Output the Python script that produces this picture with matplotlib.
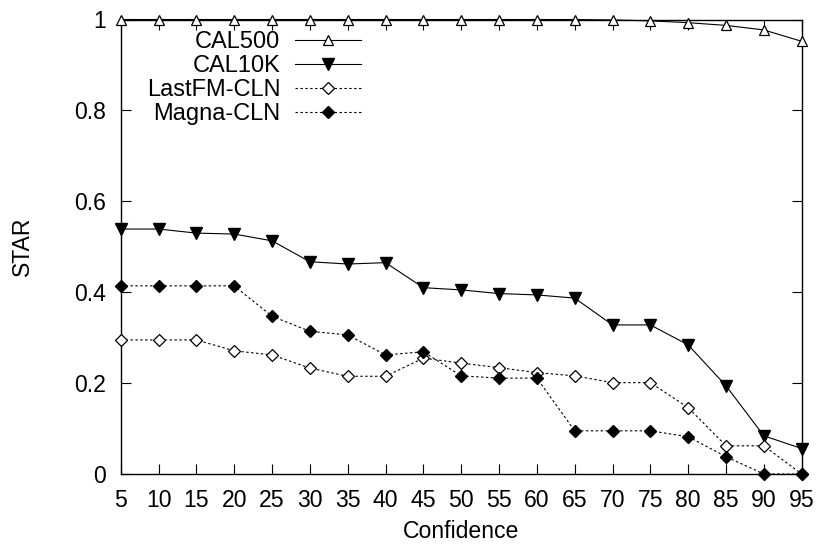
import matplotlib
matplotlib.use("Agg")
import matplotlib.pyplot as plt

plt.rcParams['font.family'] = ['Liberation Sans', 'DejaVu Sans']

confidence = [5, 10, 15, 20, 25, 30, 35, 40, 45, 50, 55, 60, 65, 70, 75, 80, 85, 90, 95]
cal500 = [1.0, 1.0, 1.0, 1.0, 1.0, 1.0, 1.0, 1.0, 1.0, 1.0, 1.0, 1.0, 1.0, 0.999, 0.997, 0.993, 0.987, 0.977, 0.952]
cal10k = [0.539, 0.539, 0.530, 0.528, 0.513, 0.467, 0.462, 0.465, 0.410, 0.405, 0.397, 0.394, 0.387, 0.328, 0.328, 0.284, 0.194, 0.084, 0.056]
lastfm = [0.295, 0.295, 0.295, 0.271, 0.262, 0.233, 0.215, 0.215, 0.255, 0.244, 0.234, 0.223, 0.216, 0.201, 0.201, 0.146, 0.062, 0.062, 0.0]
magna = [0.414, 0.414, 0.414, 0.414, 0.347, 0.314, 0.306, 0.262, 0.269, 0.216, 0.211, 0.211, 0.095, 0.095, 0.095, 0.082, 0.038, 0.0, 0.0]

yticks = [0, 0.2, 0.4, 0.6, 0.8, 1]
ytick_labels = ["0", "0.2", "0.4", "0.6", "0.8", "1"]

FS = 16.6
LFS = 17

fig = plt.figure(figsize=(8.17, 5.44), dpi=100)
ax = fig.add_axes([120.7 / 817, (544 - 474) / 544, (801.7 - 120.7) / 817, (474 - 19.5) / 544])

dash = (0, (2.2, 2.2))
ax.plot(confidence, cal500, color='black', lw=0.8, marker='^', ms=7.5, mfc='white', mec='black', mew=0.9,
        label='CAL500', clip_on=False, zorder=5)
ax.plot(confidence, cal10k, color='black', lw=0.8, marker='v', ms=8, mfc='black', mec='black',
        label='CAL10K', clip_on=False, zorder=5)
ax.plot(confidence, lastfm, color='black', lw=0.8, linestyle=dash, marker='D', ms=6.5, mfc='white', mec='black', mew=0.9,
        label='LastFM-CLN', clip_on=False, zorder=5)
ax.plot(confidence, magna, color='black', lw=0.8, linestyle=dash, marker='D', ms=6.5, mfc='black', mec='black',
        label='Magna-CLN', clip_on=False, zorder=5)

ax.set_xlim(5, 95)
ax.set_ylim(0, 1)
ax.set_xticks(confidence)
ax.set_xticklabels([str(c) for c in confidence])
ax.set_yticks(yticks)
ax.set_yticklabels(ytick_labels)

ax.tick_params(direction='in', length=7.5, width=0.8, top=True, right=True, labelsize=FS)
ax.tick_params(axis='y', pad=10.5)
ax.tick_params(axis='x', pad=10.5)
for s in ax.spines.values():
    s.set_linewidth(1.0)

ax.set_xlabel('Confidence', fontsize=FS, labelpad=6)
ax.set_ylabel('STAR', fontsize=FS, labelpad=29)

leg = ax.legend(loc='upper left', bbox_to_anchor=(0.021, 1.0), frameon=False, markerfirst=False,
                fontsize=LFS, handlelength=2.8, handletextpad=0.62, labelspacing=0.08, borderpad=0)

fig.savefig('out.png', dpi=100)
